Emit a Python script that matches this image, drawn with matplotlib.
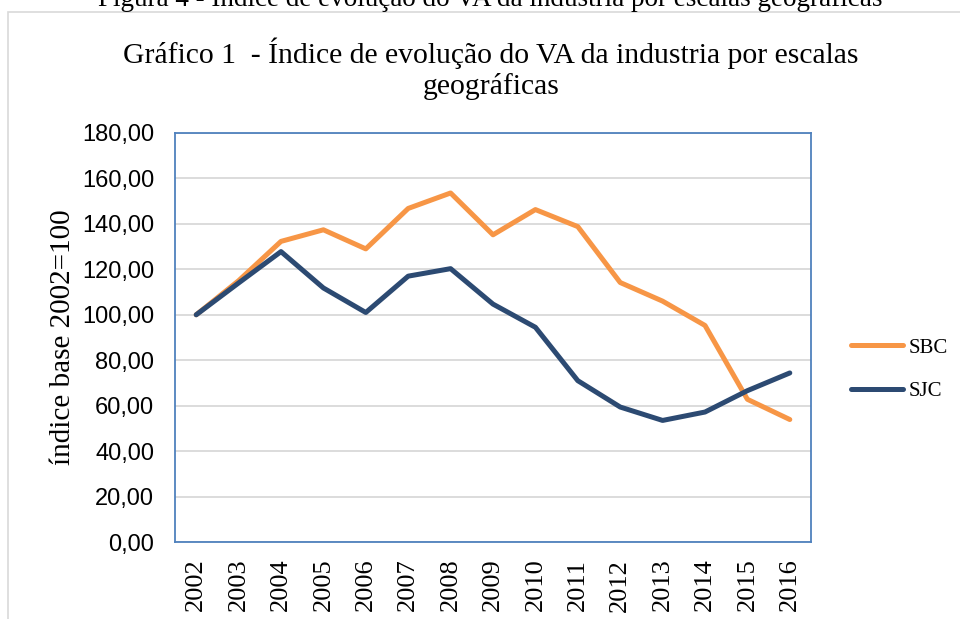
import matplotlib.pyplot as plt
from matplotlib.patches import Rectangle

# dados
anos = ['2002', '2003', '2004', '2005', '2006', '2007', '2008', '2009',
        '2010', '2011', '2012', '2013', '2014', '2015', '2016']
sbc = [100, 115, 132.3, 137.4, 129, 146.8, 153.6, 135.2, 146.3, 138.8,
       114.2, 106, 95.3, 62.8, 53.9]
sjc = [100, 114, 127.8, 111.8, 101, 117, 120.3, 104.7, 94.5, 71,
       59.4, 53.5, 57.2, 66.6, 74.4]

fig = plt.figure(figsize=(9.6, 6.19), dpi=100)
ax = fig.add_axes([175 / 960, 1 - 542 / 619, (811 - 175) / 960, (542 - 133) / 619])

# moldura externa e legenda de cima (cortada)
fig.patches.append(Rectangle((8 / 960, -0.1), 1.0, 1 - 12 / 619 + 0.1,
                             transform=fig.transFigure, fill=False,
                             edgecolor='#D9D9D9', linewidth=1.2))
fig.text(490 / 960, 1 - 6 / 619,
         'Figura 4 - Índice de evolução do VA da industria por escalas geográficas',
         ha='center', va='baseline', fontsize=19.5, family='Liberation Serif')
fig.text(491 / 960, 1 - 69 / 619,
         'Gráfico 1  - Índice de evolução do VA da industria por escalas\ngeográficas',
         ha='center', va='center', fontsize=21.3, family='Liberation Serif',
         linespacing=1.18)

x = range(len(anos))
ax.plot(x, sbc, color='#F79646', linewidth=3.6, label='SBC', solid_capstyle='round')
ax.plot(x, sjc, color='#2C4A72', linewidth=3.6, label='SJC', solid_capstyle='round')

ax.set_xlim(-0.5, len(anos) - 0.5)
ax.set_ylim(0, 180)
ax.set_yticks(range(0, 181, 20))
ax.set_yticklabels(['%d,00' % v for v in range(0, 181, 20)],
                   fontsize=17, family='Liberation Sans')
ax.set_xticks(list(x))
ax.set_xticklabels(anos, rotation=90, fontsize=19, family='Liberation Serif')
ax.tick_params(length=0, pad=12)
ax.tick_params(axis='y', pad=15)
ax.grid(axis='y', color='#D9D9D9', linewidth=1.3)
ax.set_axisbelow(True)
for s in ax.spines.values():
    s.set_color('#4F81BD')
    s.set_linewidth(1.3)

ax.set_ylabel('índice base 2002=100', fontsize=21, family='Liberation Serif', labelpad=4)

leg = ax.legend(loc='center left', bbox_to_anchor=(851 / 960, 1 - 369.5 / 619),
                bbox_transform=fig.transFigure, frameon=False, borderpad=0,
                borderaxespad=0,
                prop={'family': 'Liberation Serif', 'size': 15},
                handlelength=2.5, handletextpad=0.25, labelspacing=1.15)
for h in leg.get_lines():
    h.set_linewidth(3.6)
    h.set_solid_capstyle('round')

fig.savefig('out.png', dpi=100)
